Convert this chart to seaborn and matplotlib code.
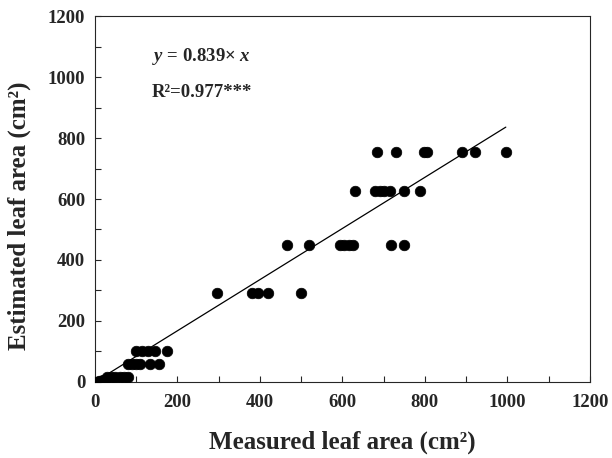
import numpy as np
import pandas as pd
import seaborn as sns
import matplotlib.pyplot as plt
from matplotlib.ticker import MultipleLocator

# measured vs estimated leaf area (cm2)
measured = [5, 10, 15, 20, 25,
            30, 40, 50, 60, 70, 80,
            80, 90, 100, 110, 133, 156,
            100, 115, 130, 145, 175,
            297, 380, 395, 420, 499,
            466, 520, 595, 605, 615, 625, 717, 750,
            630, 678, 690, 700, 715, 750, 788,
            683, 729, 797, 805, 889, 921, 996]
estimated = [0, 2, 4, 6, 8,
             15, 15, 15, 15, 15, 15,
             59, 59, 59, 59, 59, 59,
             103, 103, 103, 103, 103,
             291, 291, 291, 291, 291,
             448, 448, 448, 448, 448, 448, 448, 448,
             626, 626, 626, 626, 626, 626, 626,
             753, 753, 753, 753, 753, 753, 753]
slope = 0.839
fit_x = [0, 996]

df = pd.DataFrame({'measured': measured, 'estimated': estimated})

sns.set_style('ticks')
plt.rcParams['font.family'] = ['Liberation Serif', 'DejaVu Serif']
plt.rcParams['mathtext.fontset'] = 'custom'
plt.rcParams['mathtext.rm'] = 'Liberation Serif:bold'
plt.rcParams['mathtext.it'] = 'Liberation Serif:italic:bold'
plt.rcParams['mathtext.bf'] = 'Liberation Serif:bold'

fig = plt.figure(figsize=(6.12, 4.58), dpi=100)
ax = fig.add_axes([0.155, 0.166, 0.809, 0.799])

sns.scatterplot(x='measured', y='estimated', data=df, ax=ax, color='black',
                s=58, edgecolor='black', linewidth=0.5, legend=False, zorder=3)
fx = np.array(fit_x)
sns.lineplot(x=fx, y=slope * fx, ax=ax, color='black', linewidth=0.9)

ax.set_xlim(0, 1200)
ax.set_ylim(0, 1200)
ax.xaxis.set_major_locator(MultipleLocator(200))
ax.yaxis.set_major_locator(MultipleLocator(200))
ax.xaxis.set_minor_locator(MultipleLocator(100))
ax.yaxis.set_minor_locator(MultipleLocator(100))
ax.tick_params(which='both', direction='in', length=4, width=0.8)
ax.tick_params(axis='x', which='major', pad=9)
ax.tick_params(axis='y', which='major', pad=7)
for lab in ax.get_xticklabels() + ax.get_yticklabels():
    lab.set_fontweight('bold')
    lab.set_fontsize(13.5)

ax.set_xlabel('Measured leaf area (cm²)', fontsize=18, fontweight='bold', labelpad=14)
ax.set_ylabel('Estimated leaf area (cm²)', fontsize=18, fontweight='bold')
ax.yaxis.set_label_coords(-0.128, 0.455)

ax.text(138, 1066, '$y$ = 0.839$\\times$ $x$', fontsize=13.5, fontweight='bold', va='center')
ax.text(138, 948, 'R²=0.977***', fontsize=13.5, fontweight='bold', va='center')

for sp in ax.spines.values():
    sp.set_linewidth(0.8)
    sp.set_visible(True)

plt.savefig('out.png', dpi=100)
